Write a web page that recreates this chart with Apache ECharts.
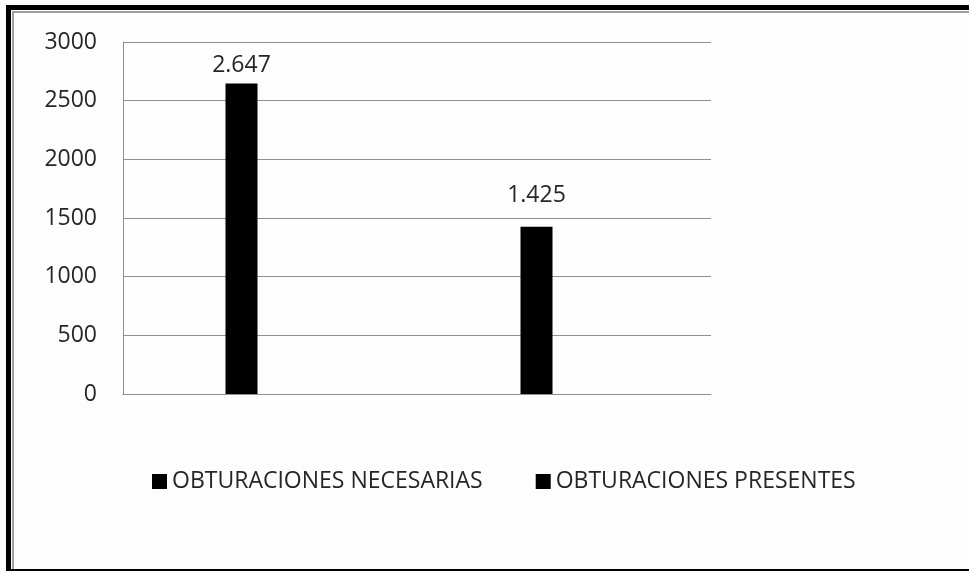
<!DOCTYPE html>
<html>
<head>
<meta charset="utf-8">
<script src="https://cdn.jsdelivr.net/npm/echarts@6/dist/echarts.min.js"></script>
<style>
  html, body { margin: 0; padding: 0; background: #fdfdfd; }
  #wrap { position: relative; width: 969px; height: 571px; overflow: hidden; }
  .edge { position: absolute; }
  #chart { position: absolute; left: 0; top: 0; width: 969px; height: 571px; }
</style>
</head>
<body>
<div id="wrap">
  <!-- heavy black frame and thin inner rule -->
  <div class="edge" style="left:6px; top:5px; width:963px; height:5px; background:#000;"></div>
  <div class="edge" style="left:6px; top:5px; width:5px; height:566px; background:#000;"></div>
  <div class="edge" style="left:6px; top:569px; width:963px; height:2px; background:#000;"></div>
  <div class="edge" style="left:12px; top:11px; width:957px; height:2px; background:#a0a0a0;"></div>
  <div class="edge" style="left:12px; top:11px; width:2px; height:558px; background:#a0a0a0;"></div>
  <div id="chart"></div>
</div>
<script>
// Categories and values
const categories = ['OBTURACIONES NECESARIAS', 'OBTURACIONES PRESENTES'];
const necesarias = [2647, null];
const presentes = [null, 1425];
// Value axis range
const yMin = 0;
const yMax = 3000;
const yStep = 500;

const FONT = '"Open Sans", sans-serif';
const gridColor = '#8f8f8f';
const textColor = '#262626';

// Spanish thousands separator: 2647 -> "2.647"
function fmt(v) {
  return String(v).replace(/\B(?=(\d{3})+(?!\d))/g, '.');
}

function barLabel(distance) {
  return {
    show: true,
    position: 'top',
    distance: distance,
    fontFamily: FONT,
    fontSize: 23,
    color: textColor,
    formatter: p => fmt(p.value)
  };
}

const chart = echarts.init(document.getElementById('chart'), null, { renderer: 'canvas' });

chart.setOption({
  animation: false,
  backgroundColor: 'transparent',
  textStyle: { fontFamily: FONT },
  grid: [
    { left: 123, top: 42, width: 588, height: 352 },
    { left: 94, top: 42, width: 590, height: 352 }
  ],
  legend: {
    data: categories,
    left: 147,
    top: 465,
    icon: 'rect',
    itemWidth: 15,
    itemHeight: 15,
    itemGap: 53,
    textStyle: { fontFamily: FONT, fontSize: 23, color: textColor }
  },
  xAxis: [
    {
      gridIndex: 0,
      type: 'category',
      data: categories,
      axisLine: { show: true, lineStyle: { color: gridColor, width: 1 } },
      axisTick: { show: false },
      axisLabel: { show: false }
    },
    {
      gridIndex: 1,
      type: 'category',
      data: categories,
      show: false
    }
  ],
  yAxis: [
    {
      gridIndex: 0,
      type: 'value',
      min: yMin,
      max: yMax,
      interval: yStep,
      axisLine: { show: true, lineStyle: { color: gridColor, width: 1 } },
      axisTick: { show: false },
      splitLine: { show: true, lineStyle: { color: gridColor, width: 1 } },
      axisLabel: {
        fontFamily: FONT,
        fontSize: 23,
        color: textColor,
        margin: 26,
        formatter: v => String(v)
      }
    },
    {
      gridIndex: 1,
      type: 'value',
      min: yMin,
      max: yMax,
      show: false
    }
  ],
  series: [
    {
      name: categories[0],
      type: 'bar',
      xAxisIndex: 1,
      yAxisIndex: 1,
      stack: 'total',
      barWidth: 32,
      data: necesarias,
      itemStyle: { color: '#000' },
      label: barLabel(6)
    },
    {
      name: categories[1],
      type: 'bar',
      xAxisIndex: 1,
      yAxisIndex: 1,
      stack: 'total',
      barWidth: 32,
      data: presentes,
      itemStyle: { color: '#000' },
      label: barLabel(20)
    }
  ]
});
</script>
</body>
</html>
